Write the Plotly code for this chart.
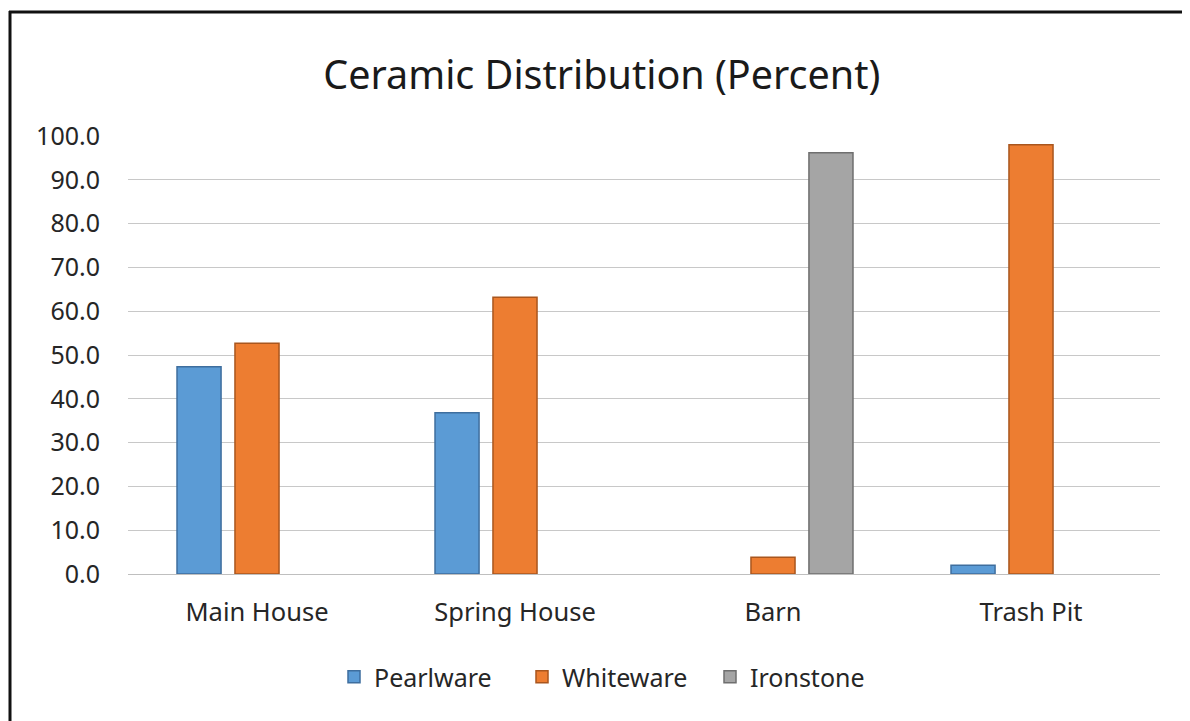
import plotly.graph_objects as go

categories = ["Main House", "Spring House", "Barn", "Trash Pit"]
pearlware = [47.3, 36.8, None, 2.0]
whiteware = [52.7, 63.2, 3.8, 98.0]
ironstone = [None, None, 96.2, None]
y_ticks = [0, 10, 20, 30, 40, 50, 60, 70, 80, 90, 100]

W, H = 1190, 721
L, R, T, B = 120, 1152, 128, 566  # plot area pixel bounds (page offset compensated)
FONT = "Noto Sans"

fig = go.Figure()
series = [
    ("Pearlware", pearlware, "#5B9BD5", "#3E6E9E"),
    ("Whiteware", whiteware, "#ED7D31", "#A9561E"),
    ("Ironstone", ironstone, "#A5A5A5", "#6F6F6F"),
]
for name, vals, col, edge in series:
    fig.add_trace(go.Bar(
        x=categories, y=vals, name=name,
        marker=dict(color=col, line=dict(color=edge, width=1.5)),
    ))

def px(x):
    return (x - L) / (R - L)

def py(y):
    return (B - y) / (B - T)

shapes = [
    dict(type="line", xref="paper", yref="paper", x0=px(2), x1=px(2), y0=py(3), y1=py(H + 10),
         line=dict(color="#111111", width=3)),
    dict(type="line", xref="paper", yref="paper", x0=px(1), x1=px(W + 10), y0=py(4), y1=py(4),
         line=dict(color="#111111", width=3)),
]

fig.update_layout(
    width=W, height=H,
    margin=dict(l=L, r=W - R, t=T, b=H - B, autoexpand=False),
    paper_bgcolor="white", plot_bgcolor="white",
    barmode="group", bargap=0.326, bargroupgap=0.24,
    title=dict(text="Ceramic Distribution (Percent)", x=0.499, xanchor="center",
               y=1 - 67 / H, yanchor="middle", yref="container",
               font=dict(family=FONT, size=39.5, color="#1a1a1a")),
    font=dict(family=FONT, color="#262626"),
    showlegend=True,
    legend=dict(orientation="h", x=px(608), xanchor="center", y=-(669 - B) / (B - T), yanchor="middle",
                font=dict(family=FONT, size=25, color="#262626"), itemwidth=30,
                entrywidth=143, entrywidthmode="pixels",
                traceorder="normal"),
    shapes=shapes,
)
fig.update_xaxes(showgrid=False, showline=True, linecolor="#BFBFBF", linewidth=1,
                 tickfont=dict(family=FONT, size=25.5, color="#262626"),
                 ticks="", ticklabelstandoff=15)
fig.update_yaxes(range=[0, 100], tickvals=y_ticks, tickformat=".1f",
                 showgrid=True, gridcolor="#C8C8C8", gridwidth=1,
                 zeroline=False, showline=False,
                 tickfont=dict(family=FONT, size=25, color="#262626"),
                 ticks="", ticklabelstandoff=27)

fig.write_html("out.html")
